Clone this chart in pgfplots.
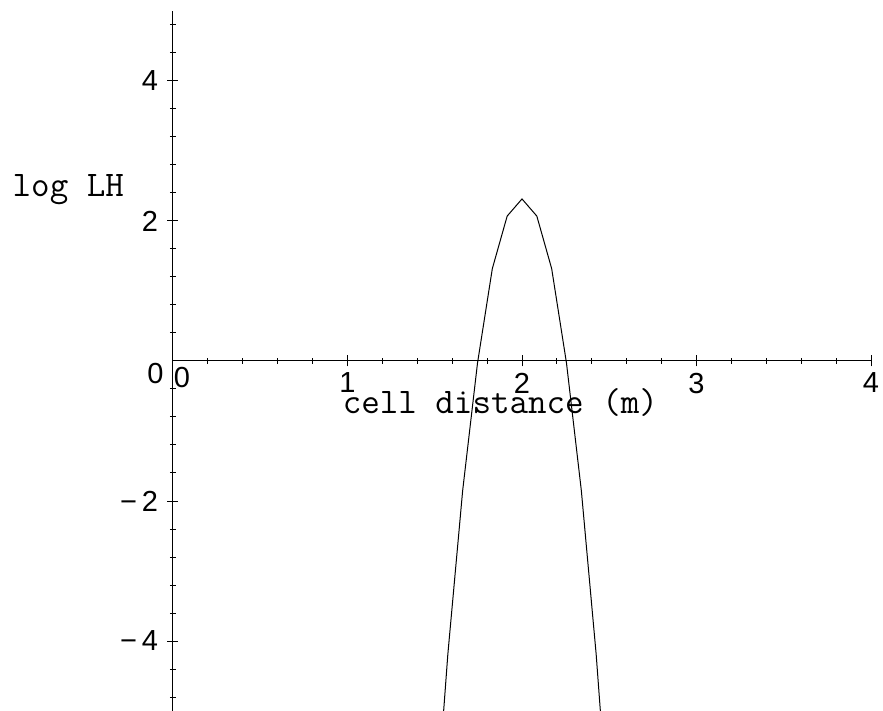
\documentclass[border=0pt]{standalone}
\usepackage{fontspec}
\setmainfont{Liberation Sans}
\usepackage{pgfplots}
\pgfplotsset{compat=1.18}
\begin{document}
\begin{tikzpicture}
\begin{axis}[
  anchor=origin, at={(0,0)},
  x=87.25pt, y=35pt,
  xmin=0, xmax=4, ymin=-5, ymax=5,
  axis lines=middle, axis line style={-, line width=0.5pt},
  hide obscured x ticks=false, hide obscured y ticks=false,
  tick align=center, major tick length=5.5pt, minor tick length=3pt,
  tick style={black, line width=0.5pt},
  xtick={1,2,3,4}, xticklabels={1,2,3,4},
  minor xtick={0.2,0.4,0.6,0.8,1.2,1.4,1.6,1.8,2.2,2.4,2.6,2.8,3.2,3.4,3.6,3.8},
  ytick={-4,-2,2,4}, yticklabels={−\,4,−\,2,2,4},
  minor ytick={-4.8,-4.4,-3.6,-3.2,-2.8,-2.4,-1.6,-1.2,-0.8,-0.4,0.4,0.8,1.2,1.6,2.4,2.8,3.2,3.6,4.4,4.8},
  extra x ticks={0}, extra x tick labels={0},
  extra x tick style={major tick length=0pt, xticklabel style={xshift=4.5pt}},
  extra y ticks={0}, extra y tick labels={0},
  extra y tick style={major tick length=0pt, yticklabel style={yshift=-6.5pt}},
  ticklabel style={font=\fontsize{14.5}{15}\selectfont},
  xticklabel style={anchor=north, inner sep=0pt, yshift=-3pt},
  yticklabel style={anchor=east, inner sep=0pt, xshift=-4.5pt},
  xlabel={cell distance (m)}, ylabel={log LH},
  every axis x label/.style={at={(rel axis cs:0.469,0.4257)}, anchor=base},
  every axis y label/.style={at={(rel axis cs:0,0.7347)}, anchor=base east, xshift=-21pt},
  label style={font=\ttfamily\fontsize{18}{19}\selectfont},
]
\addplot[black, line width=0.5pt] coordinates {
  (1.49,-7.05) (1.575,-4.19) (1.66,-1.85) (1.745,-0.03) (1.83,1.32)
  (1.915,2.07) (2.0,2.315) (2.085,2.07) (2.17,1.32) (2.255,-0.03)
  (2.34,-1.85) (2.425,-4.19) (2.51,-7.05)
};
\end{axis}
\pgfresetboundingbox
\path (-86.5pt,-175pt) rectangle (355pt,180.5pt);
\end{tikzpicture}
\end{document}
